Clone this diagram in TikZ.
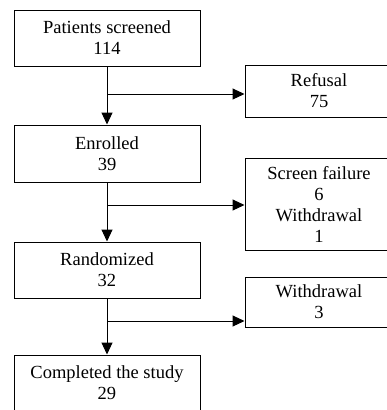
\documentclass[tikz,border=0pt]{standalone}
\usepackage{fontspec}
\setmainfont{Liberation Serif}
\usetikzlibrary{arrows.meta}

\begin{document}
\begin{tikzpicture}[x=1pt,y=-1pt,>={Triangle[length=12pt,width=11pt]},line width=1pt,
  flowbox/.style={draw,align=center,minimum width=186pt,inner sep=0pt,font=\fontsize{18.5}{21}\selectfont},
  sidebox/.style={flowbox,minimum width=148pt}]
\useasboundingbox (0,0) rectangle (387,410);
\clip (0,0) rectangle (387,410);
  % Node: scr
  \node[flowbox,minimum height=56pt] (scr) at (107,38) {Patients screened\\114};
  % Node: enr
  \node[flowbox,minimum height=57pt] (enr) at (107,153.5) {Enrolled\\39};
  % Node: rnd
  \node[flowbox,minimum height=56pt] (rnd) at (107,270) {Randomized\\32};
  % Node: cmp
  \node[flowbox,minimum height=56pt] (cmp) at (107,383) {Completed the study\\29};
  % Node: ref
  \node[sidebox,minimum height=52pt] (ref) at (319,91) {Refusal\\75};
  % Node: sf
  \node[sidebox,minimum height=92pt] (sf) at (319,204) {Screen failure\\6\\Withdrawal\\1};
  % Node: wd
  \node[sidebox,minimum height=50pt] (wd) at (319,302) {Withdrawal\\3};
  % Edge: scr -> enr
  \draw [->] (scr) -- (enr);
  % Edge: enr -> rnd
  \draw [->] (enr) -- (rnd);
  % Edge: rnd -> cmp
  \draw [->] (rnd) -- (cmp);
  % Edge: scr -> ref
  \coordinate (b1) at (scr.south |- 0,94);
  \draw [->] (b1) -- (b1 -| ref.west);
  % Edge: enr -> sf
  \coordinate (b2) at (enr.south |- 0,205);
  \draw [->] (b2) -- (b2 -| sf.west);
  % Edge: rnd -> wd
  \coordinate (b3) at (rnd.south |- 0,321);
  \draw [->] (b3) -- (b3 -| wd.west);
\end{tikzpicture}
\end{document}
